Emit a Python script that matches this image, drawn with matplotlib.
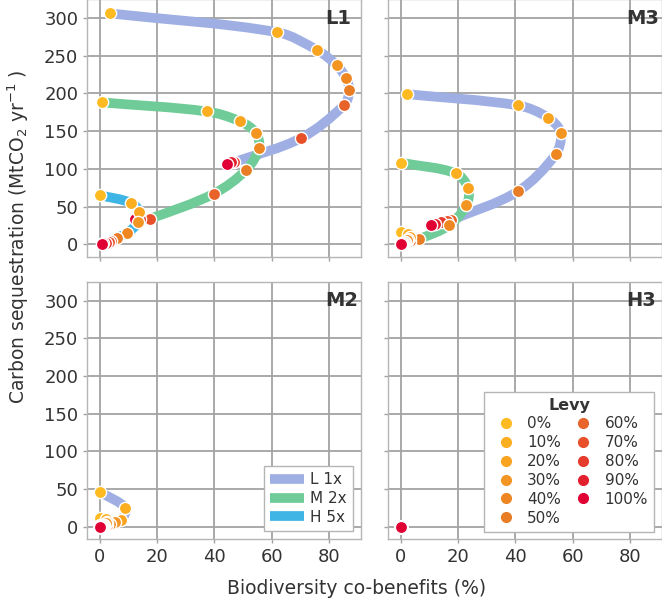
import matplotlib
matplotlib.use("Agg")
import matplotlib.pyplot as plt
from matplotlib.lines import Line2D
from matplotlib.path import Path
from matplotlib.patches import PathPatch

# levy levels and their marker colours
levy_labels = ['0%', '10%', '20%', '30%', '40%', '50%',
               '60%', '70%', '80%', '90%', '100%']
levy_colors = ['#FDBA21', '#FBAE1F', '#F9A31F', '#F39523', '#EE8722', '#E87D25',
               '#E8632A', '#E8502A', '#E63A2C', '#E31F2E', '#E00034']

series_names = ['L 1x', 'M 2x', 'H 5x']
series_colors = ['#9FAFE3', '#6FCC98', '#3FB5E5']

# panel L1
L1_low_x = [3.5, 62, 76, 82.8, 86, 87.1, 85.4, 70.4, 47, 45.8, 44.4]
L1_low_y = [306, 281, 257, 237, 220, 204, 185, 141, 109, 108.5, 107]
L1_mid_x = [0.8, 37.4, 48.9, 54.4, 55.6, 51.2, 39.8, 17.5, 14, 13, 12.2]
L1_mid_y = [188, 176, 163, 148, 128, 99, 67, 34, 33, 33, 33]
L1_high_x = [0, 10.8, 13.8, 13.3, 9.6, 6, 4, 3, 2, 1.2, 0.7]
L1_high_y = [65, 55, 43, 29, 15, 8.4, 4, 3, 2, 1.2, 0.4]

# panel M3
M3_low_x = [2, 41, 51.3, 55.8, 54, 40.8, 17.5, 16, 14, 12, 10.6]
M3_low_y = [199, 184, 168, 148, 119, 70, 32, 31, 29, 27, 25]
M3_mid_x = [0.2, 19.2, 23.5, 22.9, 16.8, 6.4, 3, 2, 1.2, 0.6, 0]
M3_mid_y = [108, 94, 74, 52, 25, 7, 4, 3, 2, 1, 0]
M3_high_x = [0, 2.5, 3, 2.5, 2, 1.5, 1, 0.7, 0.4, 0.2, 0]
M3_high_y = [16, 14, 10, 7, 5, 3.5, 2.5, 1.5, 1, 0.5, 0]

# panel M2
M2_low_x = [0.2, 8.9, 7.5, 5.1, 3.4, 2.5, 1.8, 1.2, 0.8, 0.4, 0]
M2_low_y = [46, 25, 9, 5.8, 3.6, 2.5, 1.8, 1.2, 0.8, 0.4, 0]
M2_mid_x = [0, 2, 2.5, 2, 1.5, 1, 0.7, 0.5, 0.3, 0.1, 0]
M2_mid_y = [12, 10, 7, 4.5, 3, 2, 1.5, 1, 0.6, 0.3, 0]
M2_high_x = [0, 0.8, 1, 0.8, 0.6, 0.4, 0.3, 0.2, 0.1, 0.05, 0]
M2_high_y = [3, 2.5, 2, 1.5, 1, 0.8, 0.6, 0.4, 0.2, 0.1, 0]

# panel H3 (everything sits at the origin)
H3_x = [0, 0, 0, 0, 0, 0, 0, 0, 0, 0, 0]
H3_y = [0, 0, 0, 0, 0, 0, 0, 0, 0, 0, 0]

panels = [
    ('L1', [(L1_low_x, L1_low_y), (L1_mid_x, L1_mid_y), (L1_high_x, L1_high_y)]),
    ('M3', [(M3_low_x, M3_low_y), (M3_mid_x, M3_mid_y), (M3_high_x, M3_high_y)]),
    ('M2', [(M2_low_x, M2_low_y), (M2_mid_x, M2_mid_y), (M2_high_x, M2_high_y)]),
    ('H3', [(H3_x, H3_y), (H3_x, H3_y), (H3_x, H3_y)]),
]


def smooth_path(xs, ys, sx=2.86, sy=0.753):
    # cubic bezier segments through every point, handles scaled by chord length
    pts = list(zip(xs, ys))
    n = len(pts)

    def dist(a, b):
        return (((b[0] - a[0]) * sx) ** 2 + ((b[1] - a[1]) * sy) ** 2) ** 0.5

    d = [dist(pts[i], pts[i + 1]) for i in range(n - 1)]
    tang = []
    for i in range(n):
        a = pts[max(i - 1, 0)]
        b = pts[min(i + 1, n - 1)]
        span = (d[i - 1] if i > 0 else 0) + (d[i] if i < n - 1 else 0)
        if span == 0:
            tang.append((0, 0))
        else:
            tang.append(((b[0] - a[0]) / span, (b[1] - a[1]) / span))
    verts = [pts[0]]
    codes = [Path.MOVETO]
    for i in range(n - 1):
        p1, p2 = pts[i], pts[i + 1]
        k = d[i] / 3
        c1 = (p1[0] + tang[i][0] * k, p1[1] + tang[i][1] * k)
        c2 = (p2[0] - tang[i + 1][0] * k, p2[1] - tang[i + 1][1] * k)
        verts += [c1, c2, p2]
        codes += [Path.CURVE4] * 3
    return Path(verts, codes)


fig = plt.figure(figsize=(6.62, 6.0), dpi=100)

# axes boxes in figure fractions: left column / right column, top / bottom row
lefts = [0.1319, 0.5866]
bottoms = [0.5722, 0.1012]
w, h = 0.4134, 0.4293

grid_col = '#a3a3a3'
text_col = '#333333'

axes = []
for i, (name, series) in enumerate(panels):
    r, c = divmod(i, 2)
    ax = fig.add_axes([lefts[c], bottoms[r], w, h])
    axes.append(ax)
    ax.set_xlim(-4.4, 91.2)
    ax.set_ylim(-16.5, 325)
    ax.set_xticks([0, 20, 40, 60, 80])
    ax.set_yticks([0, 50, 100, 150, 200, 250, 300])
    ax.grid(True, color=grid_col, linewidth=1.3)
    ax.set_axisbelow(True)
    for sp in ax.spines.values():
        sp.set_color('#b5b5b5')
        sp.set_linewidth(1.0)
    ax.tick_params(colors=grid_col, labelcolor=text_col, labelsize=13,
                   length=3, width=1)
    if r == 0:
        ax.tick_params(labelbottom=False)
    if c == 1:
        ax.tick_params(labelleft=False)

    # ribbons first, then the levy points on top
    for (xs, ys), col in zip(series, series_colors):
        ax.add_patch(PathPatch(smooth_path(xs, ys), facecolor='none',
                               edgecolor=col, lw=7, capstyle='butt',
                               joinstyle='round', zorder=2))
    for (xs, ys) in series:
        for k in range(len(xs)):
            ax.plot(xs[k], ys[k], 'o', color=levy_colors[k], ms=8.8,
                    mec='white', mew=1.0, zorder=3)

    ax.text(0.868, 0.962, name, transform=ax.transAxes, ha='left', va='top',
            fontsize=14, fontweight='heavy', color=text_col, zorder=5)

# legend for the three ribbons (in M2)
line_handles = [Line2D([], [], color=col, lw=7, solid_capstyle='butt')
                for col in series_colors]
leg1 = axes[2].legend(line_handles, series_names, loc='lower right',
                      fontsize=11, handlelength=2.2, handletextpad=0.4,
                      labelspacing=0.25, borderaxespad=0.55, fancybox=False,
                      edgecolor='#b5b5b5', framealpha=1)
for t in leg1.get_texts():
    t.set_color(text_col)

# legend for the levy levels (in H3)
dot_handles = [Line2D([], [], ls='', marker='o', ms=7, color=col)
               for col in levy_colors]
leg2 = axes[3].legend(dot_handles, levy_labels, loc='lower right', ncol=2,
                      title='Levy', fontsize=11, title_fontsize=11.5,
                      handlelength=2.0, handletextpad=0.4, columnspacing=0.45,
                      labelspacing=0.25, borderaxespad=0.5, fancybox=False,
                      edgecolor='#b5b5b5', framealpha=1)
leg2.get_title().set_fontweight('bold')
leg2.get_title().set_color(text_col)
for t in leg2.get_texts():
    t.set_color(text_col)

fig.text(0.539, 0.02, 'Biodiversity co-benefits (%)', ha='center', va='center',
         fontsize=13.5, color=text_col)
fig.text(0.027, 0.605, 'Carbon sequestration (MtCO$_2$ yr$^{-1}$ )',
         rotation=90, ha='center', va='center', fontsize=13.5, color=text_col)

fig.savefig('out.png', dpi=100)
